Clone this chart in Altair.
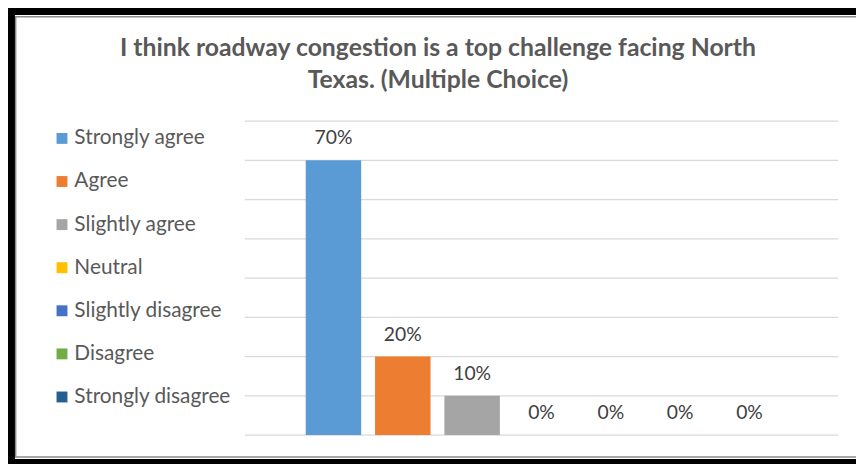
import altair as alt
import pandas as pd

categories = ["Strongly agree", "Agree", "Slightly agree", "Neutral",
              "Slightly disagree", "Disagree", "Strongly disagree"]
values = [0.70, 0.20, 0.10, 0.0, 0.0, 0.0, 0.0]
colors = ["#5B9BD5", "#ED7D31", "#A5A5A5", "#FFC000", "#4472C4", "#70AD47", "#255E91"]
grid_values = [0.0, 0.1, 0.2, 0.3, 0.4, 0.5, 0.6, 0.7, 0.8]
title_lines = ["I think roadway congestion is a top challenge facing North",
               "Texas. (Multiple Choice)"]

df = pd.DataFrame({"category": categories, "value": values})
grid_df = pd.DataFrame({"g": grid_values})

FONT = "Lato"

x_enc = alt.X("category:N", sort=categories,
              scale=alt.Scale(paddingInner=0.2, paddingOuter=0.879), axis=None)
y_scale = alt.Scale(domain=[0, 0.8], nice=False)
y_enc = alt.Y("value:Q", scale=y_scale, axis=None)

grid = alt.Chart(grid_df).mark_rule(color="#D9D9D9", strokeWidth=1.3).encode(
    y=alt.Y("g:Q", scale=y_scale, axis=None),
    x=alt.value(0), x2=alt.value(599),
)

bars = alt.Chart(df).mark_bar().encode(
    x=x_enc,
    y=y_enc,
    color=alt.Color("category:N", sort=categories,
                    scale=alt.Scale(domain=categories, range=colors),
                    legend=alt.Legend(orient="none", legendX=-195, legendY=7,
                                      title=None, symbolType="square", symbolSize=121,
                                      symbolStrokeWidth=0, labelFontSize=21,
                                      labelColor="#595959", labelFont=FONT,
                                      rowPadding=21.5, labelOffset=2, padding=0)),
)

labels = alt.Chart(df).mark_text(dy=-16, baseline="alphabetic", fontSize=19.5,
                                 color="#404040", font=FONT).encode(
    x=x_enc, y=y_enc,
    text=alt.Text("value:Q", format=".0%"),
)

title_df = pd.DataFrame({"t": ["\n".join(title_lines)]})
title = alt.Chart(title_df).mark_text(
    font=FONT, fontWeight="bold", fontSize=25, color="#595959",
    lineBreak="\n", lineHeight=33, align="center", baseline="alphabetic"
).encode(x=alt.value(195), y=alt.value(-66), text="t:N")

frame_df = pd.DataFrame({"k": [0]})
frame = alt.Chart(frame_df).mark_rect(fillOpacity=0, stroke="black", strokeWidth=8).encode(
    x=alt.value(-236), x2=alt.value(640), y=alt.value(-111), y2=alt.value(345)
)
inner = alt.Chart(frame_df).mark_rect(fillOpacity=0, stroke="#8c8c8c", strokeWidth=1.5).encode(
    x=alt.value(-231.25), x2=alt.value(640), y=alt.value(-105.25), y2=alt.value(339)
)

chart = alt.layer(grid, bars, labels, title, inner, frame).properties(
    width=599, height=317,
    padding={"left": 239, "top": 112, "right": 18, "bottom": 27},
    autosize=alt.AutoSizeParams(type="none"),
    background="white",
).configure_view(strokeWidth=0)

chart.save("out.html", embed_options={"renderer": "svg", "actions": False})
